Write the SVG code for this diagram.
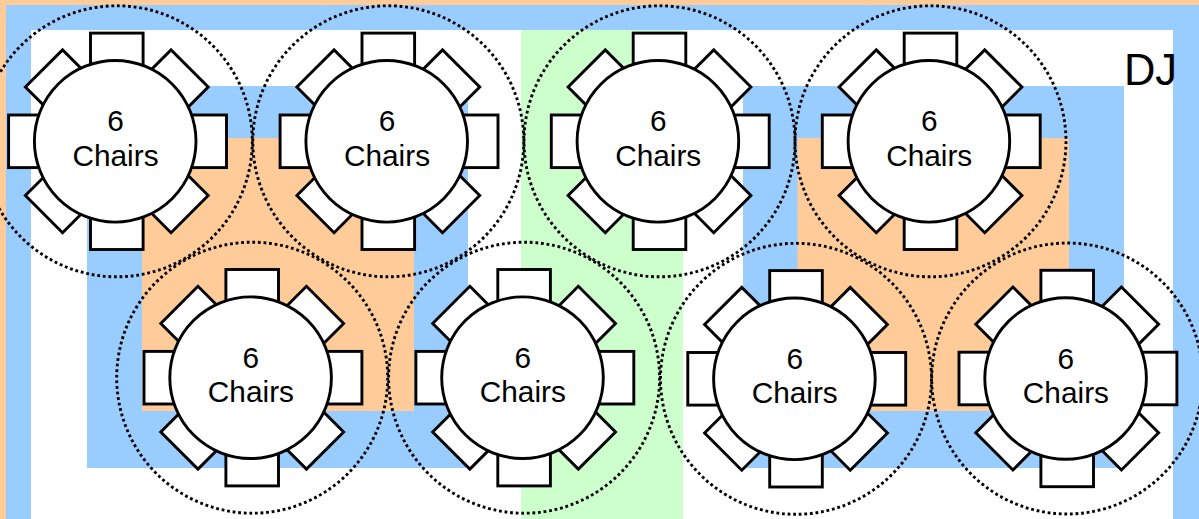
<svg xmlns="http://www.w3.org/2000/svg" xmlns:xlink="http://www.w3.org/1999/xlink" width="1199" height="519" viewBox="0 0 1199 519">
<style>
.b{fill:#99ccff}.o{fill:#ffcc99}.g{fill:#ccffcc}
.c{fill:#fff;stroke:#000;stroke-width:2.9}
.r{fill:none;stroke:#000;stroke-width:2.9;stroke-dasharray:2.8 2.8}
text{font-family:"Liberation Sans",Arial,sans-serif;font-size:29.8px;fill:#000;text-anchor:middle}
</style>
<defs>
<g id="chairs">
<rect class="c" x="-26.3" y="-108.2" width="52.6" height="60"/>
<rect class="c" x="-26.3" y="48.2" width="52.6" height="60"/>
<rect class="c" x="-108.2" y="-26.3" width="60" height="52.6"/>
<rect class="c" x="48.2" y="-26.3" width="61.5" height="52.6"/>
<rect class="c" x="-26.3" y="-103" width="52.6" height="50" transform="rotate(45)"/>
<rect class="c" x="-26.3" y="-103" width="52.6" height="50" transform="rotate(-45)"/>
<rect class="c" x="-26.3" y="-103" width="52.6" height="50" transform="rotate(135)"/>
<rect class="c" x="-26.3" y="-103" width="52.6" height="50" transform="rotate(-135)"/>
</g>
<g id="table">
<use xlink:href="#chairs" href="#chairs"/>
<circle class="c" cx="-1.6" cy="0" r="80.8"/>
<circle class="r" cx="0" cy="0" r="135.5"/>
</g>
</defs>
<g id="floor">
<rect width="1199" height="519" fill="#fff"/>
<rect class="o" width="1199" height="5"/>
<rect class="o" width="6" height="519"/>
<rect class="b" x="6" y="5" width="1193" height="25"/>
<rect class="b" x="6" y="5" width="25" height="514"/>
<rect class="b" x="1173" y="5" width="26" height="514"/>
<rect class="g" x="521" y="30" width="162" height="489"/>
<rect class="b" x="87" y="86" width="381" height="382"/>
<rect class="o" x="142" y="138" width="272" height="273"/>
<rect class="b" x="743" y="86" width="381" height="382"/>
<rect class="o" x="797.500" y="138" width="271.500" height="273"/>
</g>
<g id="table-1"><use xlink:href="#table" href="#table" x="116.800" y="141.300"/><text x="115.500" y="131">6</text><text x="115.500" y="165.700">Chairs</text></g>
<g id="table-2"><use xlink:href="#table" href="#table" x="388.300" y="141.300"/><text x="387" y="131">6</text><text x="387" y="165.700">Chairs</text></g>
<g id="table-3"><use xlink:href="#table" href="#table" x="659.500" y="141.300"/><text x="658.200" y="131">6</text><text x="658.200" y="165.700">Chairs</text></g>
<g id="table-4"><use xlink:href="#table" href="#table" x="930.500" y="141.300"/><text x="929.200" y="131">6</text><text x="929.200" y="165.700">Chairs</text></g>
<g id="table-5"><use xlink:href="#table" href="#table" x="252.200" y="377.700"/><text x="250.900" y="367.700">6</text><text x="250.900" y="401.700">Chairs</text></g>
<g id="table-6"><use xlink:href="#table" href="#table" x="524.100" y="377.700"/><text x="522.800" y="367.700">6</text><text x="522.800" y="401.700">Chairs</text></g>
<g id="table-7"><use xlink:href="#table" href="#table" x="796" y="378.800"/><text x="794.700" y="369">6</text><text x="794.700" y="403">Chairs</text></g>
<g id="table-8"><use xlink:href="#table" href="#table" x="1067.200" y="378.500"/><text x="1065.900" y="368.500">6</text><text x="1065.900" y="402.500">Chairs</text></g>
<g id="connectors"></g>
<text id="dj" x="1150.500" y="85" style="font-size:43.500px">DJ</text>
</svg>
